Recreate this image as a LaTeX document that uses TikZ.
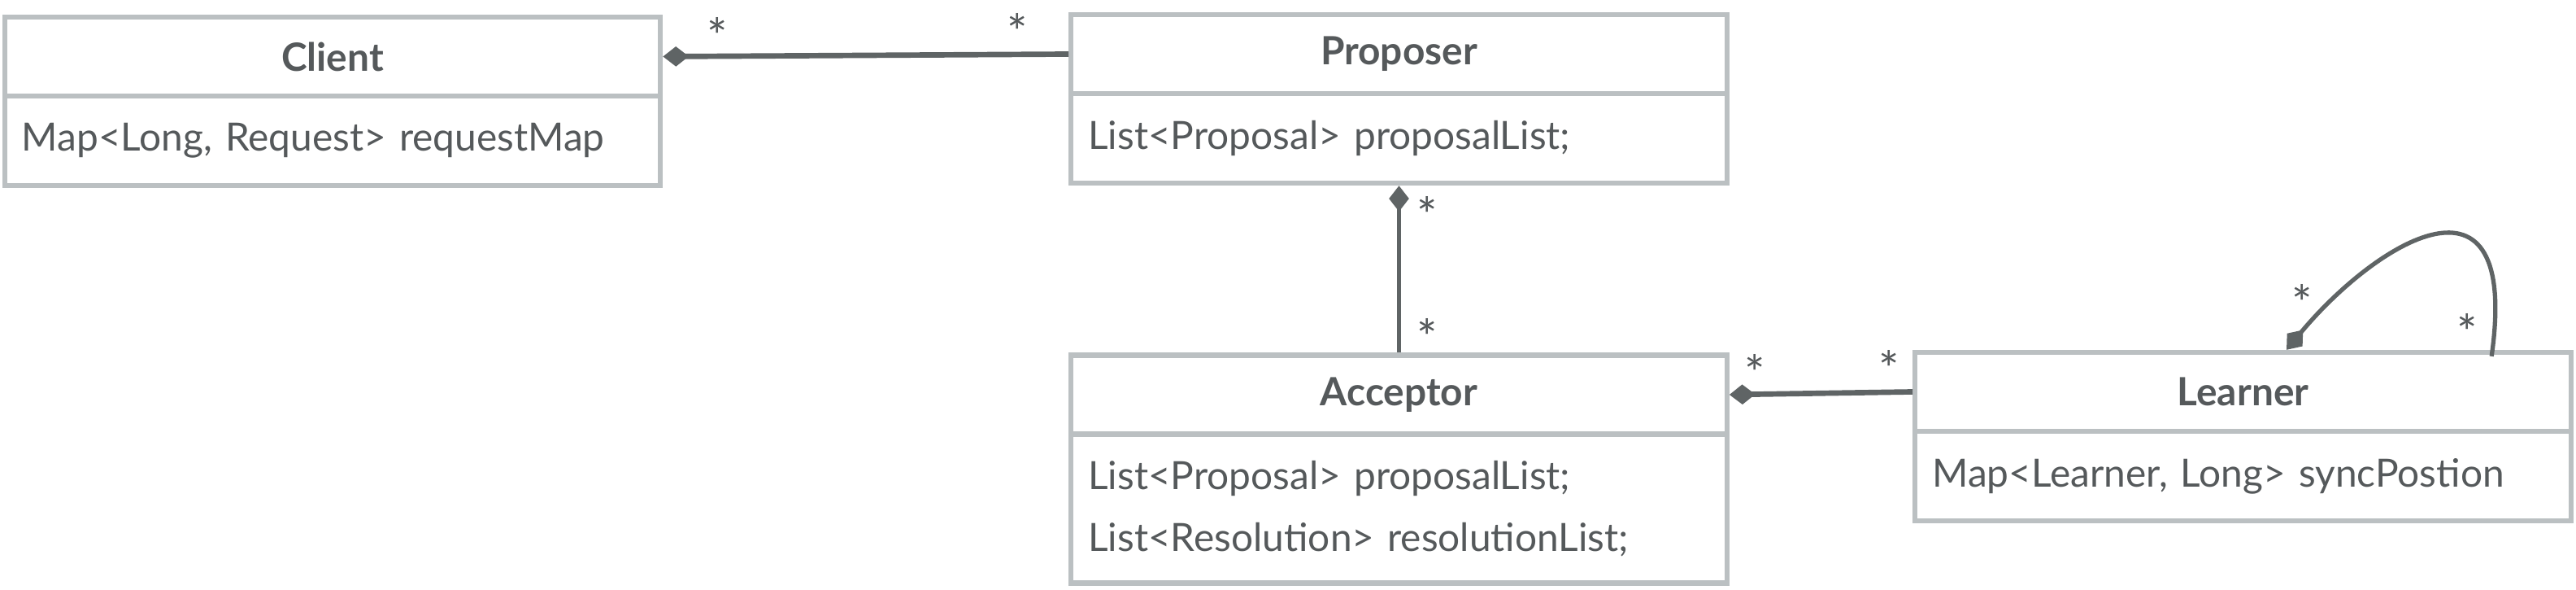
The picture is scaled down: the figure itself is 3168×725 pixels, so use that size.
\documentclass[tikz,border=0pt]{standalone}
\usepackage{fontspec}
\setmainfont{Lato}
\usetikzlibrary{positioning, arrows.meta}
\definecolor{umlBorder}{HTML}{BBC0C2}
\definecolor{umlText}{HTML}{55595B}
\definecolor{umlLine}{HTML}{5F6465}

\begin{document}
\begin{tikzpicture}[x=0.01cm, y=-0.01cm, text=umlText,
    font=\fontsize{13.6}{21.6}\selectfont,
    umlhead/.style={draw=umlBorder, line width=1.8pt, minimum width=8.06cm, minimum height=0.97cm,
      inner sep=0pt, font=\fontsize{13.6}{15}\selectfont\bfseries},
    umlattr/.style={draw=umlBorder, line width=1.8pt, text width=7.64cm, inner xsep=0.21cm,
      inner ysep=0pt, minimum height=1.10cm, align=left},
    assoc/.style={draw=umlLine, line width=1.9pt, {Diamond[length=9pt, width=7pt]}-},
    mult/.style={inner sep=0pt, font=\fontsize{17}{17}\selectfont}]
    \useasboundingbox (0,0) rectangle (3168,725);
    \node[umlhead] (clientHead) at (409,69.5) {Client};
    \node[umlattr, below=-1.8pt of clientHead] (clientAttr) {Map<Long, Request> requestMap};
    \node[umlhead] (proposerHead) at (1720.5,66.5) {Proposer};
    \node[umlattr, below=-1.8pt of proposerHead] (proposerAttr) {List<Proposal> proposalList;};
    \node[umlhead] (acceptorHead) at (1720.5,485) {Acceptor};
    \node[umlattr, below=-1.8pt of acceptorHead, minimum height=1.83cm] (acceptorAttr)
      {List<Proposal> proposalList;\\List<Resolution> resolutionList;};
    \node[umlhead] (learnerHead) at (2758.5,481.5) {Learner};
    \node[umlattr, below=-1.8pt of learnerHead] (learnerAttr) {Map<Learner, Long> syncPostion};
    \coordinate (loopStart) at ([xshift=0.535cm]learnerHead.north);
    \coordinate (loopEnd) at ([xshift=3.055cm, yshift=-0.08cm]learnerHead.north);
    \draw[assoc] (clientHead.east) -- (proposerHead.west);
    \draw[assoc, line width=1.5pt] (proposerAttr.south) -- (acceptorHead.north);
    \draw[assoc] (acceptorHead.east) -- (learnerHead.west);
    \draw[assoc, line width=1.5pt] (loopStart) .. controls (2920,300) and (3100,185) .. (loopEnd);
    \node[mult] (m1) at ([xshift=0.67cm, yshift=0.25cm]clientHead.east) {*};
    \node[mult] (m2) at ([xshift=-0.63cm, yshift=0.27cm]proposerHead.west) {*};
    \node[mult] (m3) at ([xshift=0.345cm, yshift=-0.36cm]proposerAttr.south) {*};
    \node[mult] (m4) at ([xshift=0.345cm, yshift=0.19cm]acceptorHead.north) {*};
    \node[mult] (m5) at ([xshift=0.31cm, yshift=0.27cm]acceptorHead.east) {*};
    \node[mult] (m6) at ([xshift=-0.29cm, yshift=0.28cm]learnerHead.west) {*};
    \node[mult] (m7) at ([xshift=0.19cm, yshift=0.58cm]loopStart) {*};
    \node[mult] (m8) at ([xshift=-0.30cm, yshift=0.30cm]loopEnd) {*};
\end{tikzpicture}
\end{document}
